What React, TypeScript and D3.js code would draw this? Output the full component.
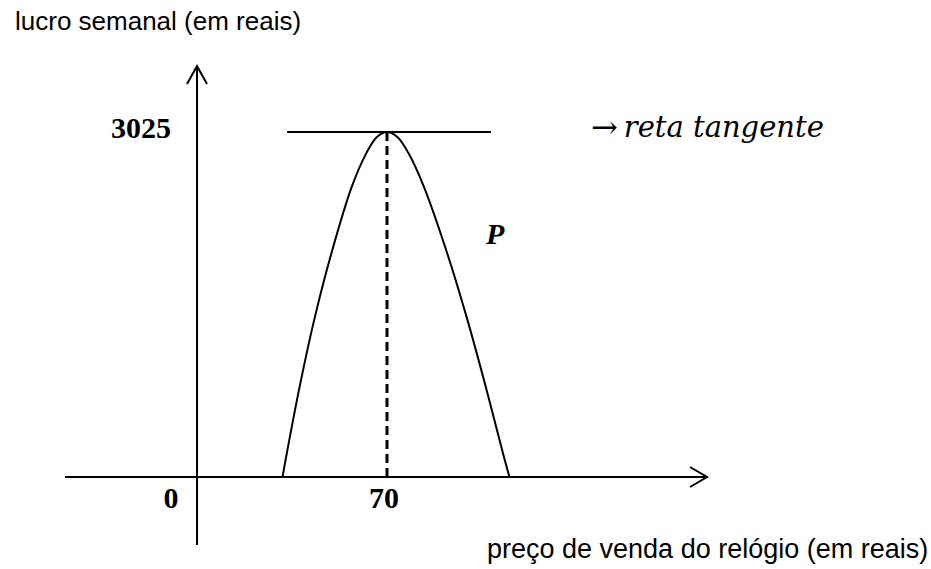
import * as d3 from "d3";

// ── Data ──────────────────────────────────────────────────
// price (reais) along the curve, and weekly profit (reais)
const priceValues  = [31.5, 33.1, 37.8, 43.2, 49.5, 57.1, 62.4, 66.2, 70, 73.9, 77.9, 83.5, 92.2, 99.6, 106.4, 112.7, 115.1];
const profitValues = [0, 210, 790, 1380, 1960, 2550, 2840, 2980, 3025, 2980, 2840, 2550, 1960, 1380, 790, 210, 0];

const xTicks = [0, 70];
const yTicks = [3025];
const PEAK_PRICE  = 70;
const PEAK_PROFIT = 3025;

// ── Layout ────────────────────────────────────────────────
const W = 931;
const H = 569;
const X0 = 197;   // pixel of price 0
const Y0 = 477;   // pixel of profit 0

const x = d3.scaleLinear().domain([0, PEAK_PRICE]).range([X0, 387]);
const y = d3.scaleLinear().domain([0, PEAK_PROFIT]).range([Y0, 132]);

const points: [number, number][] = priceValues.map((p, i) => [p, profitValues[i]]);

const line = d3.line<[number, number]>()
  .x(d => x(d[0]))
  .y(d => y(d[1]))
  .curve(d3.curveCatmullRom.alpha(0.5));

const INK = "#000";
const SERIF = "'Liberation Serif', 'Times New Roman', serif";
const SANS = "'Liberation Sans', Arial, sans-serif";

export default function App() {
  return (
    <svg width={W} height={H} viewBox={`0 0 ${W} ${H}`}
      style={{ position: "absolute", left: 0, top: 0, background: "#fff" }}>

      {/* ── Axes ── */}
      <line x1={65} y1={Y0} x2={707} y2={Y0} stroke={INK} strokeWidth={2} />
      <polyline points={`690,467 707,${Y0} 690,487`} fill="none" stroke={INK} strokeWidth={2} />
      <line x1={X0} y1={545} x2={X0} y2={66} stroke={INK} strokeWidth={2} />
      <polyline points={`187,84 ${X0},66 207,84`} fill="none" stroke={INK} strokeWidth={2} />

      {/* ── Tangent at the peak ── */}
      <line x1={x(33.2)} x2={x(108.3)} y1={y(PEAK_PROFIT)} y2={y(PEAK_PROFIT)}
        stroke={INK} strokeWidth={2} />

      {/* ── Dashed guide ── */}
      <line x1={x(PEAK_PRICE)} x2={x(PEAK_PRICE)} y1={y(PEAK_PROFIT)} y2={Y0}
        stroke={INK} strokeWidth={3} strokeDasharray="9 5" />

      {/* ── Profit curve ── */}
      <path d={line(points) ?? ""} fill="none" stroke={INK} strokeWidth={2} />

      {/* ── Tick labels ── */}
      {yTicks.map(t => (
        <text key={t} x={171} y={y(t) + 6} textAnchor="end"
          fontFamily={SERIF} fontWeight={700} fontSize={30} fill={INK}>{t}</text>
      ))}
      {xTicks.map(t => (
        <text key={t} x={t === 0 ? 171 : x(t) - 3} y={508} textAnchor="middle"
          fontFamily={SERIF} fontWeight={700} fontSize={30} fill={INK}>{t}</text>
      ))}

      <text x={486} y={244} fontFamily={SERIF} fontWeight={700} fontStyle="italic"
        fontSize={30} fill={INK}>P</text>

      <text x={591} y={137} fontFamily="'DejaVu Serif', serif" fontSize={29} fill={INK}>
        <tspan fontSize={32} dy={1}>→</tspan>
        <tspan dx={6} dy={-1} fontStyle="italic">reta tangente</tspan>
      </text>

      {/* ── Axis titles ── */}
      <text x={15} y={30} fontFamily={SANS} fontSize={26} fill={INK}>
        lucro semanal (em reais)
      </text>
      <text x={487} y={558} fontFamily={SANS} fontSize={27} fill={INK}>
        preço de venda do relógio (em reais)
      </text>
    </svg>
  );
}
